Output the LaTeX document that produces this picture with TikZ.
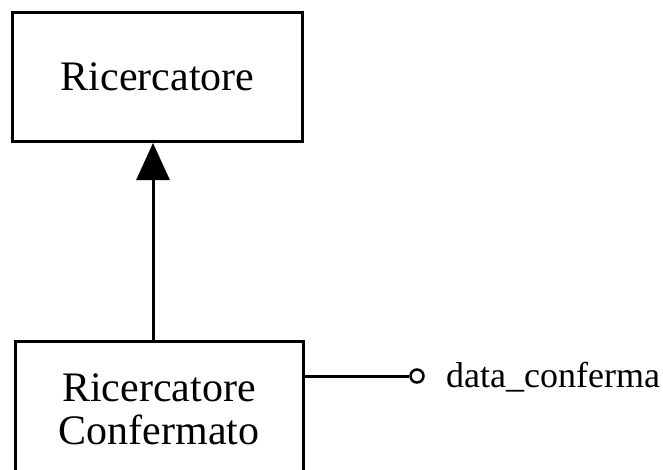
\documentclass[tikz,border=0pt]{standalone}
\usepackage{fontspec}
\setmainfont{Liberation Serif}
\usetikzlibrary{arrows.meta}

\begin{document}
\begin{tikzpicture}[x=1pt,y=-1pt,
  classbox/.style={draw,line width=3pt,inner sep=0pt,align=center,font=\fontsize{42}{43}\selectfont},
  attrdot/.style={draw,circle,line width=2.5pt,minimum size=13pt,inner sep=0pt,fill=white}]
\useasboundingbox (0,0) rectangle (663,469);

\node[classbox,minimum width=290,minimum height=129] (ric) at (157.5,77) {Ricercatore};

\node[classbox,minimum width=288,minimum height=136] (conf) at (159,409) {Ricercatore\\Confermato};

\node[attrdot] (dc) at (417,376) {};
\node[anchor=west,inner sep=0pt,font=\fontsize{36}{36}\selectfont] (dcl) at (446,377) {data\_conferma};

\draw[line width=3pt,-{Triangle[width=33pt,length=37pt]}] (conf.north -| 153,0) -- (ric.south -| 153,0);
\draw[line width=3pt] (conf.east |- dc) -- (dc);
\end{tikzpicture}
\end{document}
